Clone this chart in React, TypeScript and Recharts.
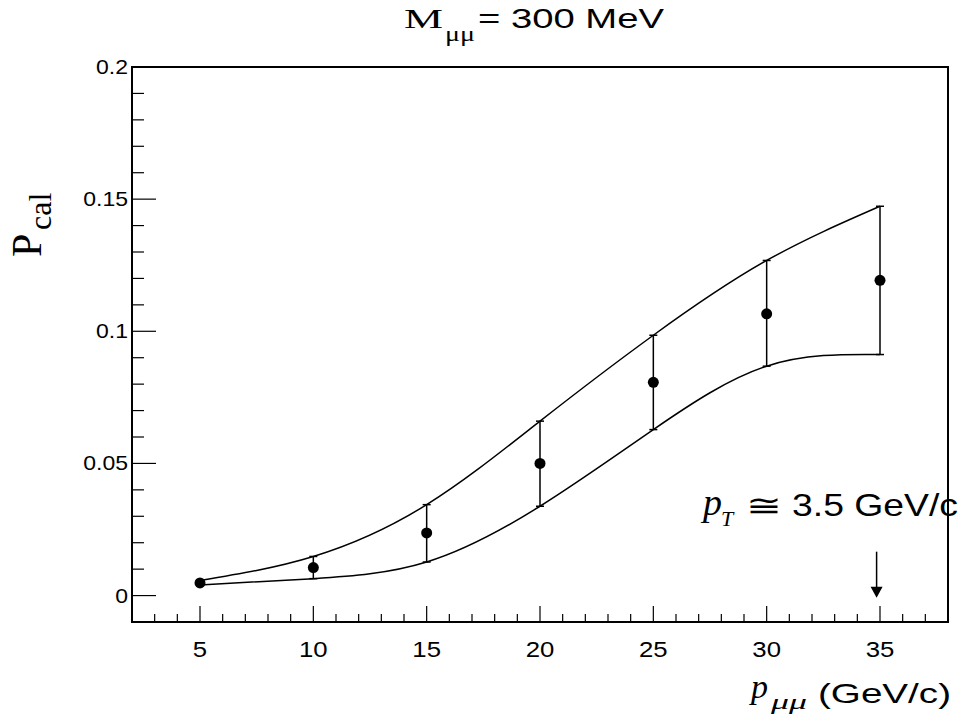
import React from "react"
import {
  ComposedChart,
  Line,
  Scatter,
  ErrorBar,
  XAxis,
  YAxis,
  ReferenceArea,
  ReferenceDot,
} from "recharts"

// measured points, M_mumu = 300 MeV
const P_MUMU = [5, 10, 15, 20, 25, 30, 35]
const P_CAL = [0.0048, 0.0106, 0.0237, 0.05, 0.0807, 0.1066, 0.1193]
const P_CAL_UPPER = [0.0057, 0.0148, 0.0344, 0.066, 0.0985, 0.1268, 0.1473]
const P_CAL_LOWER = [0.004, 0.0064, 0.0127, 0.0338, 0.0628, 0.0868, 0.0912]

const X_TICKS = [3, 4, 5, 6, 7, 8, 9, 10, 11, 12, 13, 14, 15, 16, 17, 18, 19, 20, 21, 22, 23, 24, 25, 26, 27, 28, 29, 30, 31, 32, 33, 34, 35, 36, 37]
const X_MAJOR = [5, 10, 15, 20, 25, 30, 35]
const X_MAJOR_LABELS = ["5", "10", "15", "20", "25", "30", "35"]
const Y_TICKS = [0, 0.01, 0.02, 0.03, 0.04, 0.05, 0.06, 0.07, 0.08, 0.09, 0.1, 0.11, 0.12, 0.13, 0.14, 0.15, 0.16, 0.17, 0.18, 0.19, 0.2]
const Y_MAJOR = [0, 0.05, 0.1, 0.15, 0.2]
const Y_MAJOR_LABELS = ["0", "0.05", "0.1", "0.15", "0.2"]

const ARROW_X = 34.85

const SANS = '"Liberation Sans", Arial, sans-serif'
const SERIF = '"Liberation Serif", "Times New Roman", serif'

const curveData = P_MUMU.map((x, i) => ({ x, upper: P_CAL_UPPER[i], lower: P_CAL_LOWER[i] }))
const pointData = P_MUMU.map((x, i) => ({
  x,
  y: P_CAL[i],
  err: [P_CAL[i] - P_CAL_LOWER[i], P_CAL_UPPER[i] - P_CAL[i]],
}))

const YTick = (props: any) => {
  const { x, y, payload } = props
  const idx = Y_MAJOR.findIndex((m) => Math.abs(m - payload.value) < 1e-9)
  const major = idx >= 0
  return (
    <g>
      <line x1={x} x2={x + (major ? 24 : 12)} y1={y} y2={y} stroke="#000" strokeWidth={1.2} />
      {major && (
        <text
          transform={`translate(${x - 4},${y + 7}) scale(1.15,1)`}
          textAnchor="end"
          fontFamily={SANS}
          fontSize={20}
          fill="#000"
        >
          {Y_MAJOR_LABELS[idx]}
        </text>
      )}
    </g>
  )
}

const XTick = (props: any) => {
  const { x, y, payload } = props
  const idx = X_MAJOR.indexOf(payload.value)
  const major = idx >= 0
  return (
    <g>
      <line x1={x} x2={x} y1={y} y2={y - (major ? 16 : 8)} stroke="#000" strokeWidth={1.2} />
      {major && (
        <text
          transform={`translate(${x},${y + 35}) scale(1.12,1)`}
          textAnchor="middle"
          fontFamily={SANS}
          fontSize={23}
          fill="#000"
        >
          {X_MAJOR_LABELS[idx]}
        </text>
      )}
    </g>
  )
}

const Arrow = (props: any) => {
  const { cx, cy } = props
  return (
    <g>
      <line x1={cx} x2={cx} y1={cy - 46} y2={cy - 10} stroke="#000" strokeWidth={1.5} />
      <polygon points={`${cx - 6},${cy - 11} ${cx + 6},${cy - 11} ${cx},${cy}`} fill="#000" />
    </g>
  )
}

const Dot = (props: any) => <circle cx={props.cx} cy={props.cy} r={5.5} fill="#000" />

export default function App() {
  return (
    <div style={{ position: "absolute", left: 0, top: 0, width: 962, height: 722, background: "#fff" }}>
      <ComposedChart
        width={962}
        height={722}
        data={curveData}
        margin={{ top: 67, right: 14, bottom: 60, left: 72 }}
      >
        <XAxis
          dataKey="x"
          type="number"
          domain={[2, 38]}
          ticks={X_TICKS}
          interval={0}
          height={40}
          tickSize={0}
          tickMargin={0}
          axisLine={false}
          tickLine={false}
          tick={<XTick />}
        />
        <YAxis
          type="number"
          domain={[-0.01, 0.2]}
          ticks={Y_TICKS}
          interval={0}
          width={60}
          tickSize={0}
          tickMargin={0}
          axisLine={false}
          tickLine={false}
          tick={<YTick />}
        />
        <ReferenceArea x1={2} x2={38} y1={-0.01} y2={0.2} fill="none" stroke="#000" strokeWidth={2} />
        <Line type="natural" dataKey="upper" stroke="#000" strokeWidth={1.5} dot={false} isAnimationActive={false} />
        <Line type="natural" dataKey="lower" stroke="#000" strokeWidth={1.5} dot={false} isAnimationActive={false} />
        <Scatter data={pointData} dataKey="y" shape={<Dot />} isAnimationActive={false}>
          <ErrorBar dataKey="err" direction="y" width={4} stroke="#000" strokeWidth={1.5} />
        </Scatter>
        <ReferenceDot x={ARROW_X} y={-0.0008} shape={<Arrow />} />
      </ComposedChart>

      <svg
        width={962}
        height={722}
        style={{ position: "absolute", left: 0, top: 0, pointerEvents: "none" }}
      >
        {/* title */}
        <text x={404} y={28} fontFamily={SERIF} fontSize={27} textLength={39} lengthAdjust="spacingAndGlyphs">M</text>
        <text x={445} y={41} fontFamily={SERIF} fontSize={20} textLength={30} lengthAdjust="spacingAndGlyphs">μμ</text>
        <text x={478} y={28} fontFamily={SANS} fontSize={28} textLength={186} lengthAdjust="spacingAndGlyphs">= 300 MeV</text>

        {/* y axis title */}
        <g transform="translate(41,257) rotate(-90)">
          <text x={0} y={0} fontFamily={SERIF} fontSize={42}>P</text>
          <text x={27} y={10} fontFamily={SERIF} fontSize={32}>cal</text>
        </g>

        {/* x axis title */}
        <text x={751} y={698} fontFamily={SERIF} fontStyle="italic" fontSize={34}>p</text>
        <text x={771} y={709} fontFamily={SERIF} fontStyle="italic" fontSize={22} textLength={36} lengthAdjust="spacingAndGlyphs">μμ</text>
        <text x={818} y={703} fontFamily={SANS} fontSize={28} textLength={133} lengthAdjust="spacingAndGlyphs">(GeV/c)</text>

        {/* annotation */}
        <text x={703} y={515} fontFamily={SERIF} fontStyle="italic" fontSize={38}>p</text>
        <text x={721} y={526} fontFamily={SERIF} fontStyle="italic" fontSize={22}>T</text>
        <text x={746} y={516} fontFamily='"DejaVu Sans", sans-serif' fontSize={30} textLength={36} lengthAdjust="spacingAndGlyphs">≅</text>
        <text x={792} y={516} fontFamily={SANS} fontSize={32} textLength={166} lengthAdjust="spacingAndGlyphs">3.5 GeV/c</text>
      </svg>
    </div>
  )
}
